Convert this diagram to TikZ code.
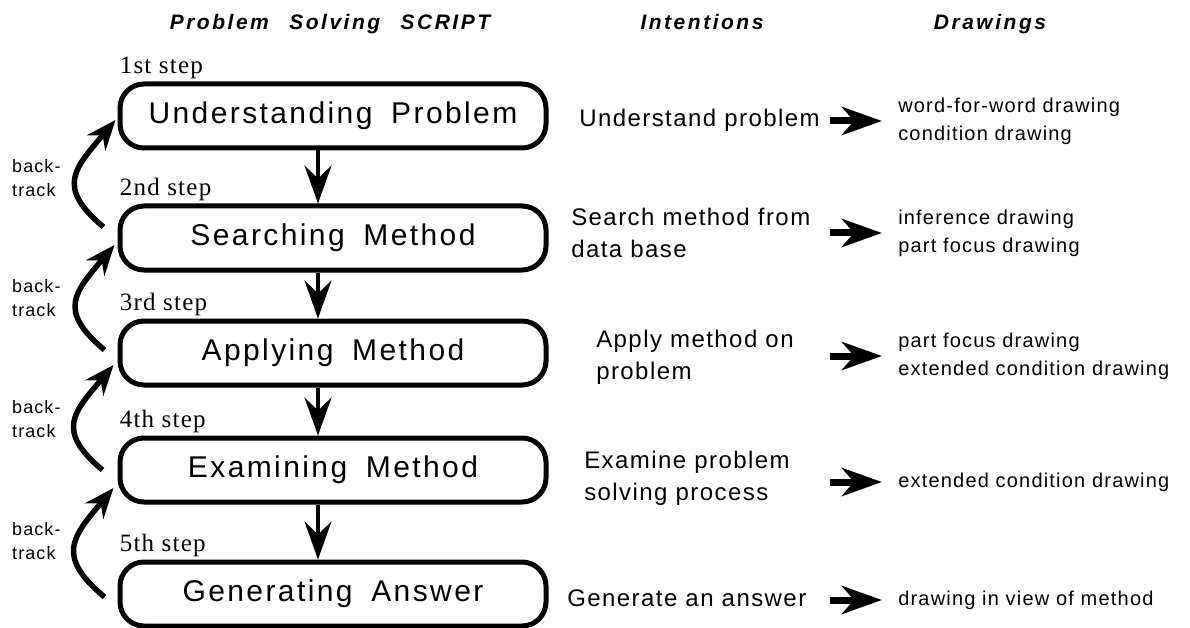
\documentclass[tikz,border=0pt]{standalone}
\usepackage{fontspec}
\setmainfont{Liberation Serif}
\setsansfont{Liberation Sans}
\newfontfamily\boxfont[LetterSpace=8]{Liberation Sans}
\newfontfamily\headfont[LetterSpace=12]{Liberation Sans}
\newfontfamily\intfont[LetterSpace=6]{Liberation Sans}
\newfontfamily\stepfont[LetterSpace=5]{Liberation Serif}
\usetikzlibrary{arrows.meta,positioning}
\tikzset{every picture/.style={line width=0.5pt}}
\tikzstyle{stepbox}=[draw,line width=5pt,rounded corners=24pt,minimum width=426pt,minimum height=64pt,inner sep=0pt,font=\boxfont\fontsize{30}{36}\selectfont]
\tikzstyle{steptag}=[anchor=base west,inner sep=0pt,font=\stepfont\fontsize{25}{30}\selectfont]
\tikzstyle{colhead}=[anchor=base,inner sep=0pt,font=\headfont\bfseries\itshape\fontsize{21}{24}\selectfont]
\tikzstyle{intent}=[anchor=west,align=left,inner sep=0pt,font=\intfont\fontsize{24}{32}\selectfont]
\tikzstyle{drawing}=[anchor=west,align=left,inner sep=0pt,font=\intfont\fontsize{20}{28}\selectfont]
\tikzstyle{backtag}=[anchor=west,align=left,inner sep=0pt,font=\intfont\fontsize{18}{24}\selectfont]

\begin{document}
\begin{tikzpicture}[x=1pt,y=-1pt]
\useasboundingbox (0,0) rectangle (1190,628);
% column heads
\node[colhead] (hscript) at (330,30) {Problem\hspace{12pt} Solving\hspace{12pt} SCRIPT};
\node[colhead] (hint) at (702,30) {Intentions};
\node[colhead] (hdraw) at (990,30) {Drawings};
% script
\node[stepbox] (b1) at (333,116) {Understanding\hspace{8pt} Problem};
\node[stepbox] (b2) at (333,238) {Searching\hspace{8pt} Method};
\node[stepbox] (b3) at (333,353) {Applying\hspace{8pt} Method};
\node[stepbox] (b4) at (333,470) {Examining\hspace{8pt} Method};
\node[stepbox] (b5) at (333,594) {Generating\hspace{8pt} Answer};
\node[steptag] (s1) at ([xshift=2pt,yshift=8pt]b1.north west) {1st step};
\node[steptag] (s2) at ([xshift=2pt,yshift=8pt]b2.north west) {2nd step};
\node[steptag] (s3) at ([xshift=2pt,yshift=8pt]b3.north west) {3rd step};
\node[steptag] (s4) at ([xshift=2pt,yshift=8pt]b4.north west) {4th step};
\node[steptag] (s5) at ([xshift=2pt,yshift=8pt]b5.north west) {5th step};
\coordinate (ax) at (318,0);
\path[line width=4pt,-{Stealth[length=38pt,width=27pt,inset=13pt]}]
(b1.south -| ax) edge (b2.north -| ax)
(b2.south -| ax) edge (b3.north -| ax)
(b3.south -| ax) edge (b4.north -| ax)
(b4.south -| ax) edge (b5.north -| ax);
% backtracking
\node[backtag] (t1) at (12,178) {back-\\track};
\node[backtag] (t2) at (12,298) {back-\\track};
\node[backtag] (t3) at (12,419) {back-\\track};
\node[backtag] (t4) at (12,541) {back-\\track};
\path[line width=5.5pt,-{Stealth[length=30pt,width=24pt,inset=10pt]},looseness=1.5]
([xshift=-14pt,yshift=11pt]b2.west) edge[out=140,in=-130] ([xshift=-2pt,yshift=-4pt]b1.west)
([xshift=-13pt,yshift=3pt]b3.west) edge[out=140,in=-130] ([xshift=-3pt,yshift=-7pt]b2.west)
([xshift=-15pt]b4.west) edge[out=140,in=-130] ([xshift=-4pt,yshift=-12pt]b3.west)
([xshift=-13pt,yshift=-3pt]b5.west) edge[out=140,in=-130] ([xshift=-4pt,yshift=-18pt]b4.west);
% intentions
\node[intent] (i1) at (579,120) {Understand problem};
\node[intent] (i2) at (571,233) {Search method from\\data base};
\node[intent] (i3) at (596,357) {Apply method on\\problem};
\node[intent] (i4) at (584,478) {Examine problem\\solving process};
\node[intent] (i5) at (567,598) {Generate an answer};
% drawings
\node[drawing] (d1) at (898,121) {word-for-word drawing\\condition drawing};
\node[drawing] (d2) at (898,233) {inference drawing\\part focus drawing};
\node[drawing] (d3) at (898,356) {part focus drawing\\extended condition drawing};
\node[drawing] (d4) at (898,482) {extended condition drawing};
\node[drawing] (d5) at (898,600) {drawing in view of method};
\path[line width=7pt,-{Stealth[length=40pt,width=28pt,inset=12pt]}]
([xshift=-68pt]d1.west) edge ([xshift=-16pt]d1.west)
([xshift=-68pt]d2.west) edge ([xshift=-16pt]d2.west)
([xshift=-68pt]d3.west) edge ([xshift=-16pt]d3.west)
([xshift=-68pt]d4.west) edge ([xshift=-16pt]d4.west)
([xshift=-68pt]d5.west) edge ([xshift=-16pt]d5.west);
\end{tikzpicture}
\end{document}
